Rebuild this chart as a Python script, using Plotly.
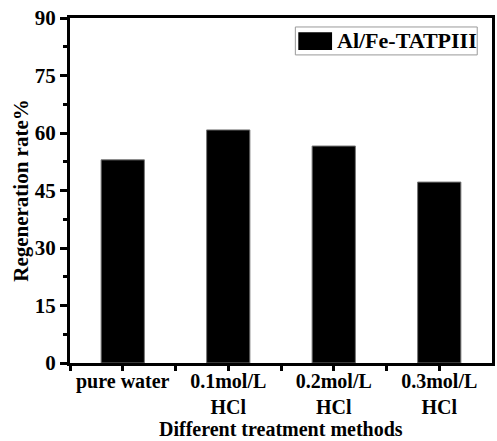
import plotly.graph_objects as go

categories = ["pure water", "0.1mol/L<br>HCl", "0.2mol/L<br>HCl", "0.3mol/L<br>HCl"]
positions = [0, 1, 2, 3]
values = [53.0, 60.8, 56.6, 47.2]
series_name = "Al/Fe-TATPIII"
y_ticks = [0, 15, 30, 45, 60, 75, 90]
x_title = "Different treatment methods"
y_title = "Regeneration rate%"

font_family = "Liberation Serif, Times New Roman, serif"
bold = dict(family=font_family, size=21, color="black", weight="bold")
xtick_font = dict(family=font_family, size=20, color="black", weight="bold")
xtitle_font = dict(family=font_family, size=20, color="black", weight="bold")

fig = go.Figure()
fig.add_trace(go.Bar(
    x=positions, y=values, name=series_name,
    width=0.41, marker=dict(color="black", line=dict(color="#777", width=1)),
    showlegend=False,
))

# legend box (drawn manually for the wide rectangular swatch)
fig.add_shape(type="rect", xref="paper", yref="paper",
              x0=0.534, x1=0.965, y0=0.893, y1=0.974,
              line=dict(color="#999", width=1), fillcolor="white", layer="above")
fig.add_shape(type="rect", xref="paper", yref="paper",
              x0=0.541, x1=0.621, y0=0.907, y1=0.959,
              line=dict(color="black", width=0), fillcolor="black", layer="above")
fig.add_annotation(xref="paper", yref="paper", x=0.627, y=0.934,
                   xanchor="left", yanchor="middle", text=series_name,
                   showarrow=False, font=dict(family=font_family, size=22, color="black", weight="bold"))

# x axis title
fig.add_annotation(xref="paper", yref="paper", x=0.5, y=0, yshift=-78,
                   xanchor="center", yanchor="bottom", text=x_title, borderpad=0,
                   showarrow=False, font=xtitle_font)

fig.update_layout(
    width=497, height=441,
    margin=dict(l=70, r=2, t=18, b=78),
    plot_bgcolor="white", paper_bgcolor="white",
    font=dict(family=font_family, color="black"),
    showlegend=False,
    xaxis=dict(
        range=[-0.5, 3.5], tickvals=positions, ticktext=categories,
        showline=True, linecolor="black", linewidth=3, mirror=True,
        ticks="outside", ticklen=5, tickwidth=3, tickcolor="black",
        minor=dict(tickvals=[-0.5, 0.5, 1.5, 2.5], ticks="outside", ticklen=5, tickwidth=3, tickcolor="black"),
        showgrid=False, zeroline=False,
        tickfont=xtick_font, ticklabelstandoff=-7,
    ),
    yaxis=dict(
        range=[0, 90], tickvals=y_ticks,
        showline=True, linecolor="black", linewidth=3, mirror=True,
        ticks="outside", ticklen=7, tickwidth=3, tickcolor="black",
        minor=dict(dtick=7.5, ticks="outside", ticklen=4, tickwidth=3, tickcolor="black"),
        showgrid=False, zeroline=False,
        tickfont=bold,
        title=dict(text=y_title, standoff=1, font=bold),
    ),
)

fig.write_html("out.html")
